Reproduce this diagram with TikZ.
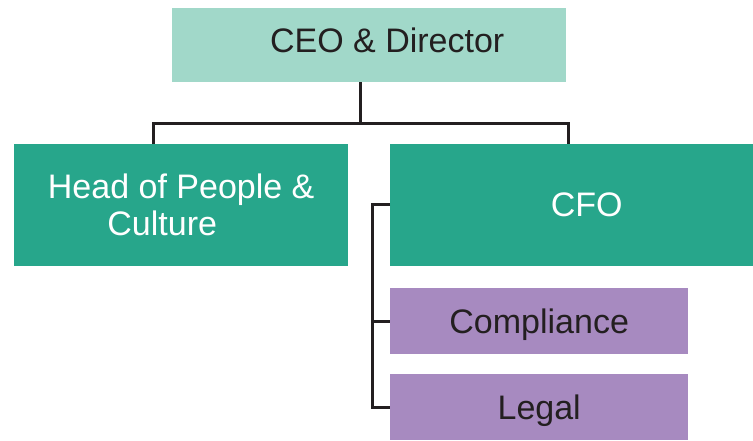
\documentclass[tikz,border=0pt]{standalone}
\usepackage{fontspec}
\setmainfont{Liberation Sans}
\definecolor{ceoteal}{HTML}{A1D8C9}
\definecolor{deepteal}{HTML}{27A68B}
\definecolor{lilac}{HTML}{A78AC0}
\definecolor{linkgrey}{HTML}{231F20}
\tikzset{
  unit/.style={anchor=north west, inner sep=0pt, font=\fontsize{34}{37}\selectfont, align=center},
  link/.style={draw=linkgrey, line width=3pt}
}
\begin{document}
\begin{tikzpicture}[x=1pt,y=-1pt]
  \useasboundingbox (0,0) rectangle (753,440);
  \node[unit, fill=ceoteal, text=linkgrey, minimum width=394pt, minimum height=74pt] (ceo) at (172,8) {\hspace*{36pt}CEO \& Director\raisebox{0pt}[0pt][11pt]{}};
  \node[unit, fill=deepteal, text=white, minimum width=334pt, minimum height=122pt] (head) at (14,144) {Head of People \&\\Culture\hspace*{38pt}};
  \node[unit, fill=deepteal, text=white, minimum width=363pt, minimum height=122pt] (cfo) at (390,144) {\hspace*{30pt}CFO};
  \node[unit, fill=lilac, text=linkgrey, minimum width=298pt, minimum height=66pt] (compliance) at (390,288) {\raisebox{0pt}[24pt][0pt]{Compliance}};
  \node[unit, fill=lilac, text=linkgrey, minimum width=298pt, minimum height=66pt] (legal) at (390,374) {\raisebox{0pt}[24pt][0pt]{Legal}};

  \coordinate (busM) at (360,123);
  \coordinate (busL) at (153,123);
  \coordinate (busR) at (568,123);
  \coordinate (rail) at (372,204);

  \draw[link] (ceo.south -| busM) -- (busM);
  \draw[link] (head.north -| busL) -- (busL) -- (busR) -- (cfo.north -| busR);
  \draw[link] (cfo.west |- rail) -- (rail) |- (legal.west);
  \draw[link] (rail |- compliance.west) -- (compliance.west);
\end{tikzpicture}
\end{document}
